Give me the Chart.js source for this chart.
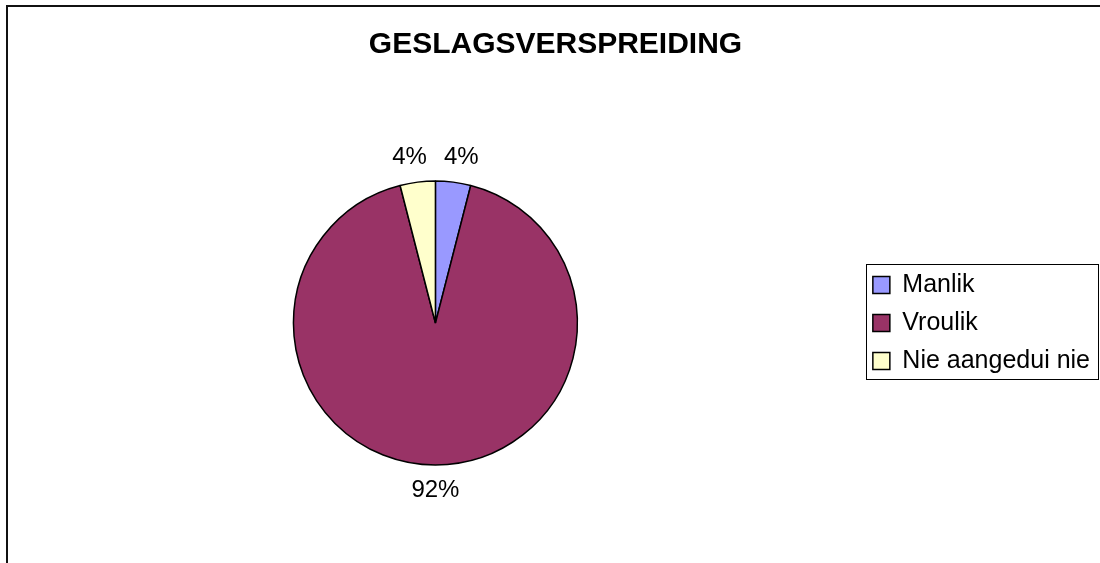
<!DOCTYPE html>
<html>
<head>
<meta charset="utf-8">
<script src="https://cdn.jsdelivr.net/npm/chart.js@4/dist/chart.umd.min.js"></script>
<style>
  html, body { margin: 0; padding: 0; background: #fff; overflow: hidden; }
  #wrap { position: relative; width: 1100px; height: 563px; }
  #frame {
    position: absolute; left: 6px; top: 5px; right: -10px; bottom: -10px;
    border-left: 2px solid #111; border-top: 2px solid #111;
  }
  #chart { position: absolute; left: 0; top: 0; }
</style>
</head>
<body>
<div id="wrap">
  <div id="frame"></div>
  <canvas id="chart" width="1100" height="563"></canvas>
</div>
<script>
'use strict';

// ── Data ──
const categories = ['Manlik', 'Vroulik', 'Nie aangedui nie'];
const shares     = [4, 92, 4];
const colours    = ['#9999ff', '#993366', '#ffffcc'];

const FONT = 'Arial, "Liberation Sans", sans-serif';

// ── Percent labels outside each slice ──
const sliceLabels = {
  id: 'sliceLabels',
  afterDatasetsDraw(chart) {
    const { ctx } = chart;
    const meta = chart.getDatasetMeta(0);
    ctx.save();
    ctx.font = '24px ' + FONT;
    ctx.fillStyle = '#000';
    ctx.textAlign = 'center';
    ctx.textBaseline = 'middle';
    meta.data.forEach((arc, i) => {
      const p = arc.getProps(['x', 'y', 'startAngle', 'endAngle', 'outerRadius'], true);
      const mid = (p.startAngle + p.endAngle) / 2;
      const r = p.outerRadius + 25;
      const cx = Math.cos(mid);
      // small slices at the top: keep their labels apart a little
      const push = Math.abs(cx) < 0.3 && Math.sin(mid) < 0 ? Math.sign(cx) * 5 : 0;
      ctx.fillText(shares[i] + '%', p.x + cx * r + push, p.y + Math.sin(mid) * r);
    });
    ctx.restore();
  }
};

// ── Box round the legend ──
const legendBox = {
  id: 'legendBox',
  afterDraw(chart) {
    const boxes = chart.legend && chart.legend.legendHitBoxes;
    if (!boxes || !boxes.length) return;
    const { ctx } = chart;
    let l = Infinity, t = Infinity, r = -Infinity, b = -Infinity;
    boxes.forEach(h => {
      l = Math.min(l, h.left); t = Math.min(t, h.top);
      r = Math.max(r, h.left + h.width); b = Math.max(b, h.top + h.height);
    });
    const x0 = Math.round(l - 7), y0 = Math.round(t - 9);
    const x1 = Math.round(r + 8), y1 = Math.round(b + 5);
    ctx.save();
    ctx.strokeStyle = '#000';
    ctx.lineWidth = 1;
    ctx.strokeRect(x0 + 0.5, y0 + 0.5, x1 - x0, y1 - y0);
    ctx.restore();
  }
};

new Chart(document.getElementById('chart'), {
  type: 'pie',
  data: {
    labels: categories,
    datasets: [{
      data: shares,
      backgroundColor: colours,
      borderColor: '#000',
      borderWidth: 1.5,
    }],
  },
  options: {
    responsive: false,
    animation: false,
    radius: 142,
    layout: { padding: { left: 11, right: 0, top: 0, bottom: 0 } },
    plugins: {
      title: {
        display: true,
        text: 'GESLAGSVERSPREIDING',
        color: '#000',
        font: { family: FONT, size: 30, weight: 'bold' },
        padding: { top: 27, bottom: 20 },
      },
      legend: {
        position: 'right',
        fullSize: false,
        labels: {
          color: '#000',
          font: { family: FONT, size: 25 },
          boxWidth: 17,
          boxHeight: 17,
          padding: 13,
        },
      },
      tooltip: { enabled: false },
    },
  },
  plugins: [sliceLabels, legendBox],
});
</script>
</body>
</html>
